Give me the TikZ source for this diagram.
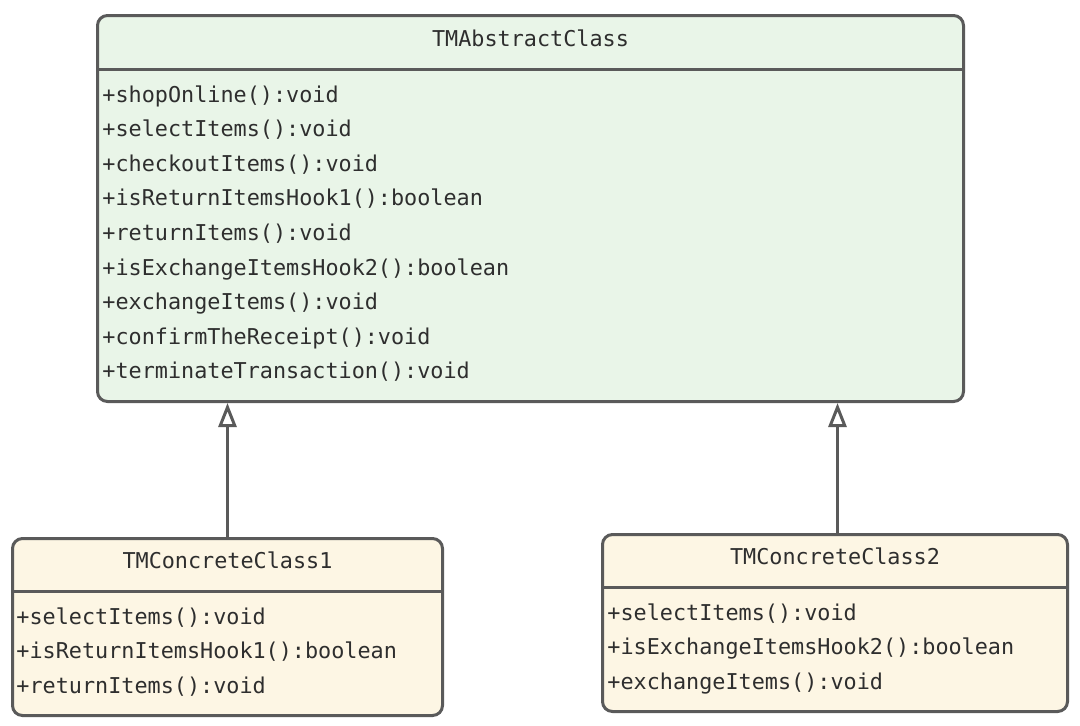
\documentclass[tikz,border=0pt]{standalone}
\usepackage{fontspec}
\setmonofont{DejaVu Sans Mono}
\usepackage{xcolor}
\definecolor{umlgreen}{HTML}{E9F5E8}
\definecolor{umlcream}{HTML}{FDF6E4}
\definecolor{umlgray}{HTML}{5A5A5A}
\definecolor{umltext}{HTML}{2E2E2E}
\usetikzlibrary{
  positioning,
  arrows.meta,
  calc
}

\begin{document}
\begin{tikzpicture}[
  x=0.5pt, y=-0.5pt,
  classbox/.style={
    rectangle, rounded corners=5pt, draw=umlgray, line width=1.5pt,
    anchor=north west, inner sep=0pt
  },
  classname/.style={font=\ttfamily\fontsize{10.9}{13}\selectfont, text=umltext},
  methods/.style={
    font=\ttfamily\fontsize{10.9}{17.3}\selectfont, text=umltext,
    align=left, anchor=north west, inner sep=0pt
  },
  divider/.style={draw=umlgray, line width=1.5pt},
  inherit/.style={-{Triangle[open, length=12pt, width=9pt]}, draw=umlgray,
    line width=1.5pt}
]
\useasboundingbox (0,0) rectangle (1080,725);

% abstract class
\node[classbox, fill=umlgreen, minimum width=433pt, minimum height=193pt]
  (abs) at (96,14) {};
\node[classname] (abs-name) at ($(abs.north)+(0,24)$) {TMAbstractClass};
\draw[divider] ($(abs.north west)+(0,55)$) -- ($(abs.north east)+(0,55)$);
\node[methods] (abs-ops) at ($(abs.north west)+(6,71)$) {
  +shopOnline():void\\
  +selectItems():void\\
  +checkoutItems():void\\
  +isReturnItemsHook1():boolean\\
  +returnItems():void\\
  +isExchangeItemsHook2():boolean\\
  +exchangeItems():void\\
  +confirmTheReceipt():void\\
  +terminateTransaction():void
};

% concrete classes
\node[classbox, fill=umlcream, minimum width=215pt, minimum height=88.5pt]
  (cc1) at (11,537) {};
\node[classname] (cc1-name) at ($(cc1.north)+(0,23)$) {TMConcreteClass1};
\draw[divider] ($(cc1.north west)+(0,54)$) -- ($(cc1.north east)+(0,54)$);
\node[methods] (cc1-ops) at ($(cc1.north west)+(5,70)$) {
  +selectItems():void\\
  +isReturnItemsHook1():boolean\\
  +returnItems():void
};

\node[classbox, fill=umlcream, minimum width=232.5pt, minimum height=88.5pt]
  (cc2) at (601,533) {};
\node[classname] (cc2-name) at ($(cc2.north)+(0,23)$) {TMConcreteClass2};
\draw[divider] ($(cc2.north west)+(0,54)$) -- ($(cc2.north east)+(0,54)$);
\node[methods] (cc2-ops) at ($(cc2.north west)+(6,70)$) {
  +selectItems():void\\
  +isExchangeItemsHook2():boolean\\
  +exchangeItems():void
};

% generalisation
\draw[inherit] (cc1.north) -- (cc1.north |- abs.south);
\draw[inherit] ($(cc2.north)+(2.5,0)$) -- ($(cc2.north |- abs.south)+(2.5,0)$);

\end{tikzpicture}
\end{document}
